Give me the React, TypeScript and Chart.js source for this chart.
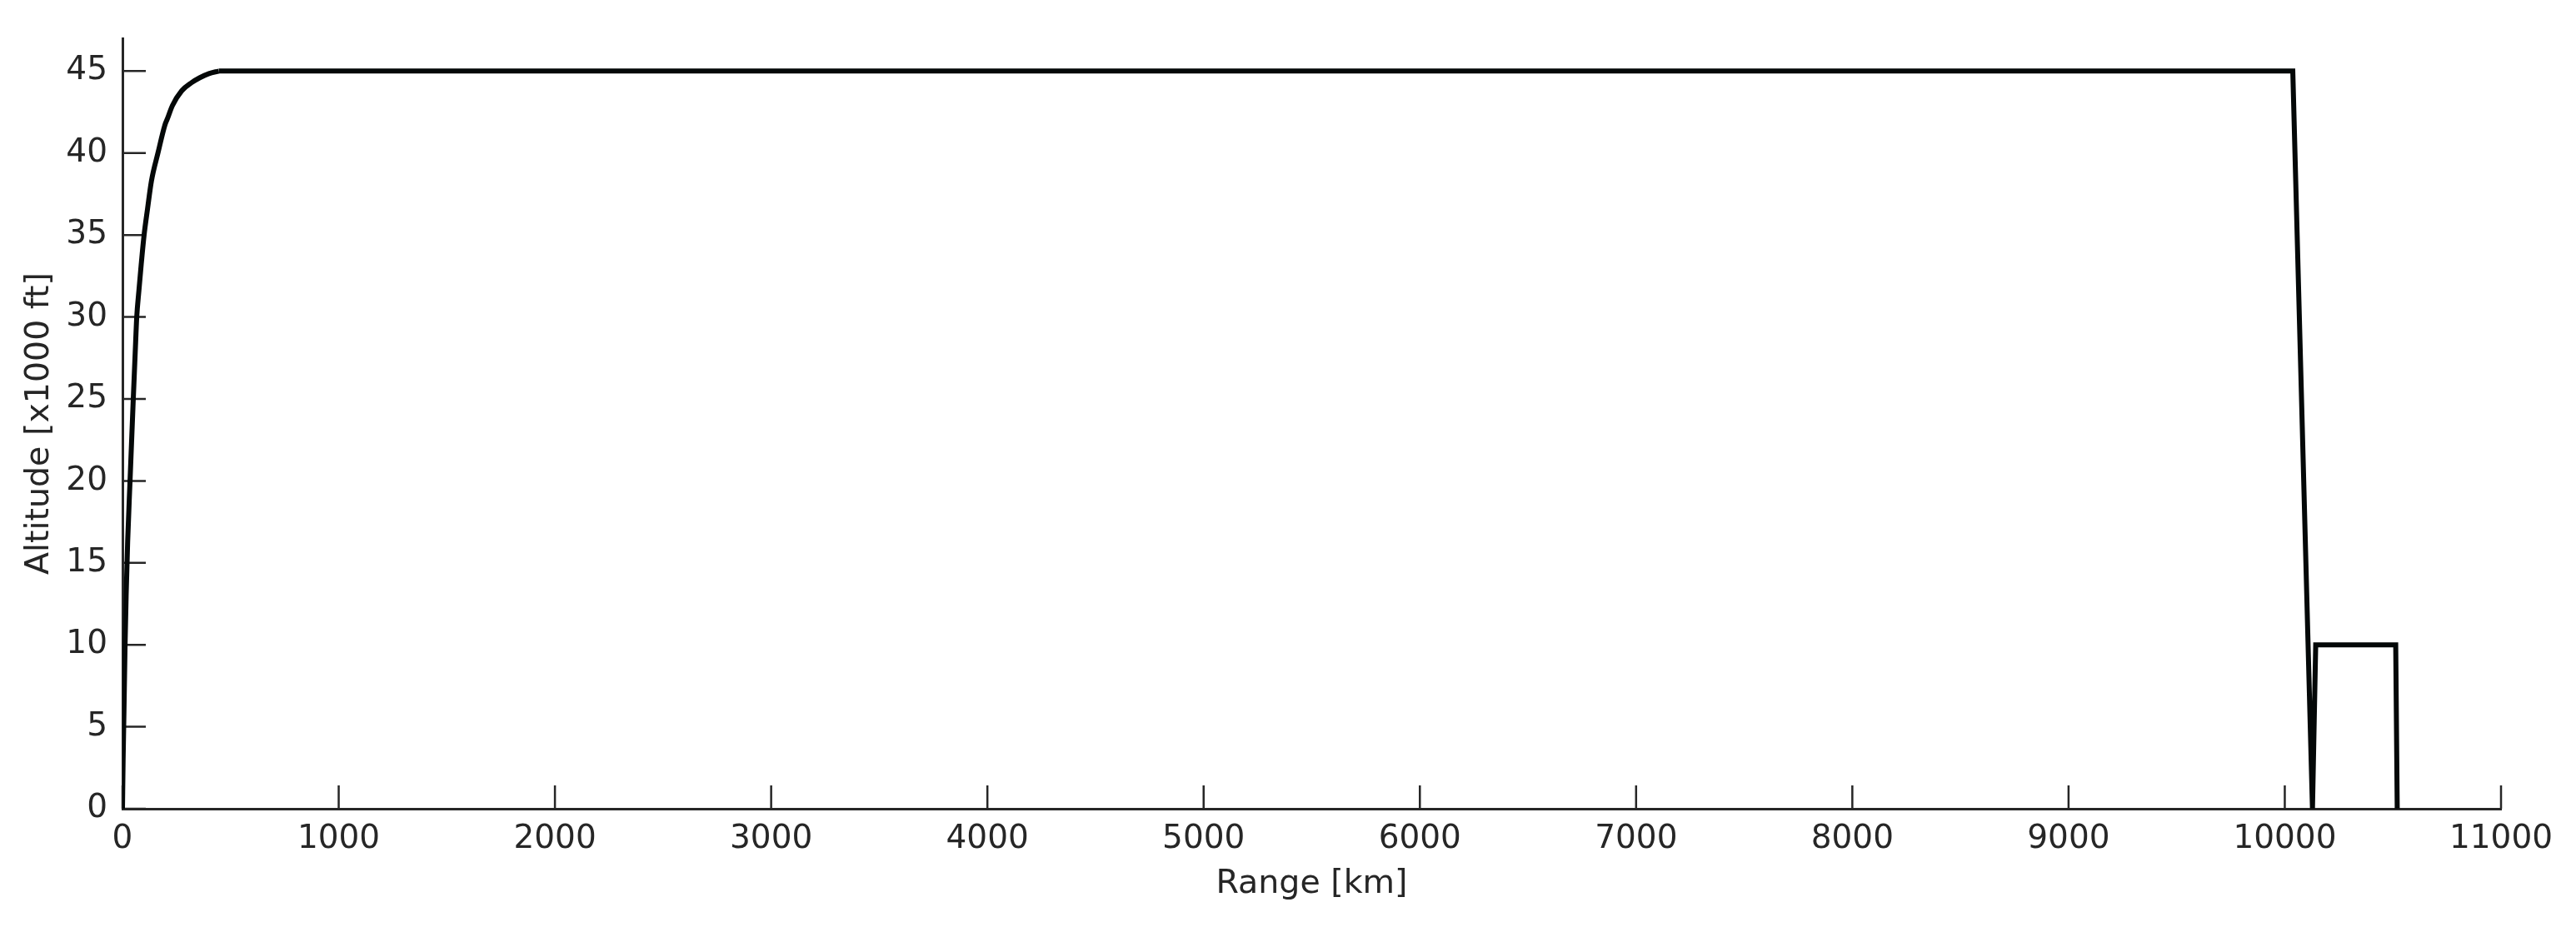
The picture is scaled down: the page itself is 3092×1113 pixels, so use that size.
import { useEffect, useRef } from 'react';
import { Chart, registerables } from 'chart.js';

Chart.register(...registerables);

// climb segment (smooth), range [km] vs altitude [x1000 ft]
const climbRangeKm = [0, 3, 7, 12, 17, 24, 35, 50, 61, 66, 76, 87, 100, 116, 134, 164, 196, 208, 231, 274, 320, 358, 400, 445];
const climbAltKft = [0, 3, 6, 10, 13, 16.3, 20, 25, 28.5, 30, 31.6, 33.25, 35, 36.6, 38.3, 40, 41.7, 42.1, 42.9, 43.8, 44.3, 44.6, 44.85, 45];

// cruise, descent and the short hop at the end (straight segments)
const cruiseRangeKm = [445, 10037, 10128, 10143, 10513, 10520];
const cruiseAltKft = [45, 45, 0, 10, 10, 0];

const xTicks = [0, 1000, 2000, 3000, 4000, 5000, 6000, 7000, 8000, 9000, 10000, 11000];
const yTicks = [0, 5, 10, 15, 20, 25, 30, 35, 40, 45];

const axisColor = '#262626';
const lineColor = '#040808';
const fontFamily = "'DejaVu Sans', sans-serif";

// matlab-style inward tick marks
const inwardTicks = {
  id: 'inwardTicks',
  beforeDatasetsDraw(chart: Chart) {
    const { ctx, chartArea, scales } = chart;
    const len = 28;
    ctx.save();
    ctx.strokeStyle = axisColor;
    ctx.lineWidth = 2.5;
    ctx.beginPath();
    xTicks.forEach((v) => {
      const px = scales.x.getPixelForValue(v);
      ctx.moveTo(px, chartArea.bottom);
      ctx.lineTo(px, chartArea.bottom - len);
    });
    yTicks.forEach((v) => {
      const py = scales.y.getPixelForValue(v);
      ctx.moveTo(chartArea.left, py);
      ctx.lineTo(chartArea.left + len, py);
    });
    ctx.stroke();
    ctx.restore();
  },
};

export default function App() {
  const canvasRef = useRef<HTMLCanvasElement>(null);
  const chartRef = useRef<Chart | null>(null);

  useEffect(() => {
    if (!canvasRef.current) return;
    const ctx = canvasRef.current.getContext('2d');
    if (!ctx) return;

    if (chartRef.current) {
      chartRef.current.destroy();
    }

    const lineStyle = {
      showLine: true,
      borderColor: lineColor,
      borderWidth: 6,
      pointRadius: 0,
      borderJoinStyle: 'miter' as const,
    };

    chartRef.current = new Chart(ctx, {
      type: 'scatter',
      data: {
        datasets: [
          {
            label: 'Climb',
            data: climbRangeKm.map((x, i) => ({ x, y: climbAltKft[i] })),
            cubicInterpolationMode: 'monotone',
            ...lineStyle,
          },
          {
            label: 'Cruise',
            data: cruiseRangeKm.map((x, i) => ({ x, y: cruiseAltKft[i] })),
            tension: 0,
            ...lineStyle,
          },
        ],
      },
      options: {
        animation: false,
        responsive: true,
        maintainAspectRatio: false,
        layout: {
          padding: { top: 46, right: 90, left: 0, bottom: 0 },
        },
        scales: {
          x: {
            type: 'linear',
            min: 0,
            max: 11000,
            afterFit: (scale) => {
              scale.height = 142;
            },
            afterBuildTicks: (scale) => {
              scale.ticks = xTicks.map((value) => ({ value }));
            },
            grid: { display: false, drawTicks: false, tickLength: 0 },
            border: { display: true, color: axisColor, width: 3 },
            ticks: {
              color: axisColor,
              padding: 13,
              maxRotation: 0,
              autoSkip: false,
              font: { family: fontFamily, size: 39 },
              callback: (v) => String(v),
            },
            title: {
              display: true,
              text: 'Range [km]',
              color: axisColor,
              padding: { top: 0, bottom: 28 },
              font: { family: fontFamily, size: 39.5 },
            },
          },
          y: {
            type: 'linear',
            min: 0,
            max: 47,
            afterFit: (scale) => {
              scale.width = 147;
            },
            afterBuildTicks: (scale) => {
              scale.ticks = yTicks.map((value) => ({ value }));
            },
            grid: { display: false, drawTicks: false, tickLength: 0 },
            border: { display: true, color: axisColor, width: 3 },
            ticks: {
              color: axisColor,
              padding: 18,
              autoSkip: false,
              font: { family: fontFamily, size: 39 },
              callback: (v) => String(v),
            },
            title: {
              display: true,
              text: 'Altitude [x1000 ft]',
              color: axisColor,
              padding: { top: 24, bottom: 0 },
              font: { family: fontFamily, size: 39.5 },
            },
          },
        },
        plugins: {
          legend: { display: false },
          tooltip: { enabled: false },
        },
      },
      plugins: [inwardTicks],
    });

    return () => {
      if (chartRef.current) {
        chartRef.current.destroy();
        chartRef.current = null;
      }
    };
  }, []);

  return (
    <div style={{ position: 'absolute', left: 0, top: 0, width: 3092, height: 1113, background: '#fff' }}>
      <canvas ref={canvasRef} />
    </div>
  );
}
